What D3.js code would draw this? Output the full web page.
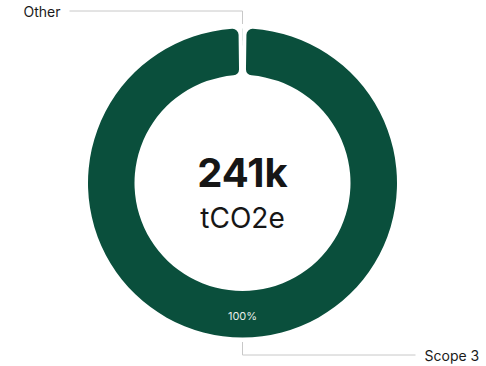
<!DOCTYPE html>
<html>
<head>
<meta charset="utf-8">
<script src="https://cdn.jsdelivr.net/npm/d3@7"></script>
<style>
  html, body { margin: 0; padding: 0; background: #fff; }
  svg { display: block; font-family: Inter, "Noto Sans", sans-serif; }
</style>
</head>
<body>
<svg id="chart" width="486" height="366"></svg>
<script>
// Emissions by scope, in thousand tCO2e
const categories = ["Scope 3", "Other"];
const values = [240.8, 0.2];
const colors = ["#0a4f3c", "#0a4f3c"];
const totalLabel = "241k";
const unitLabel = "tCO2e";

const width = 486, height = 366;
const cx = 242.5, cy = 183;
const outerR = 154.5, innerR = 108;
const padAngle = 0.021;

const svg = d3.select("#chart");
const g = svg.append("g").attr("transform", `translate(${cx},${cy})`);

const data = categories.map((c, i) => ({ name: c, value: values[i], color: colors[i] }));
const total = d3.sum(values);

// Rotate so the small slice (and its padding) sits centred at 12 o'clock
const offset = padAngle / 2 + (values[1] / total) * (2 * Math.PI) / 2;
const pie = d3.pie().value(d => d.value).sort(null)
  .padAngle(padAngle)
  .startAngle(offset).endAngle(2 * Math.PI + offset);
const arcs = pie(data);

const arc = d3.arc().innerRadius(innerR).outerRadius(outerR).cornerRadius(6);

g.selectAll("path.slice")
  .data(arcs)
  .join("path")
  .attr("class", "slice")
  .attr("d", arc)
  .attr("fill", d => d.data.color);

// Percentage inside the ring for slices large enough to hold it
const labelR = 132.5;
const midArc = d3.arc().innerRadius(labelR).outerRadius(labelR);
g.selectAll("text.pct")
  .data(arcs.filter(d => d.data.value / total > 0.05))
  .join("text")
  .attr("class", "pct")
  .attr("x", d => midArc.centroid(d)[0])
  .attr("y", d => midArc.centroid(d)[1])
  .attr("text-anchor", "middle")
  .attr("dominant-baseline", "central")
  .attr("font-size", 11)
  .attr("fill", "#e6ece9")
  .text(d => Math.round(d.data.value / total * 100) + "%");

// Leader lines with labels
const lineStart = outerR + 4.5, elbowR = 172, reach = 173;
arcs.forEach(d => {
  const a = (d.startAngle + d.endAngle) / 2;
  const sx = Math.sin(a), sy = -Math.cos(a);
  const x0 = sx * lineStart, y0 = sy * lineStart;
  const x1 = sx * elbowR, y1 = sy * elbowR;
  const side = y1 < 0 ? -1 : 1; // top labels to the left, bottom labels to the right
  const x2 = side * reach;
  g.append("polyline")
    .attr("points", [[x0, y0], [x1, y1], [x2, y1]].map(p => p.join(",")).join(" "))
    .attr("fill", "none")
    .attr("stroke", "#c8c8c8")
    .attr("stroke-width", 1);
  g.append("text")
    .attr("x", x2 + side * 9)
    .attr("y", y1)
    .attr("text-anchor", side < 0 ? "end" : "start")
    .attr("dominant-baseline", "central")
    .attr("font-size", 14)
    .attr("fill", "#1a1a1a")
    .text(d.data.name);
});

// Center total
g.append("text")
  .attr("x", 0).attr("y", 4)
  .attr("text-anchor", "middle")
  .attr("font-size", 40)
  .attr("font-weight", 700)
  .attr("fill", "#161616")
  .text(totalLabel);
g.append("text")
  .attr("x", 0).attr("y", 45)
  .attr("text-anchor", "middle")
  .attr("font-size", 28)
  .attr("fill", "#161616")
  .text(unitLabel);
</script>
</body>
</html>
